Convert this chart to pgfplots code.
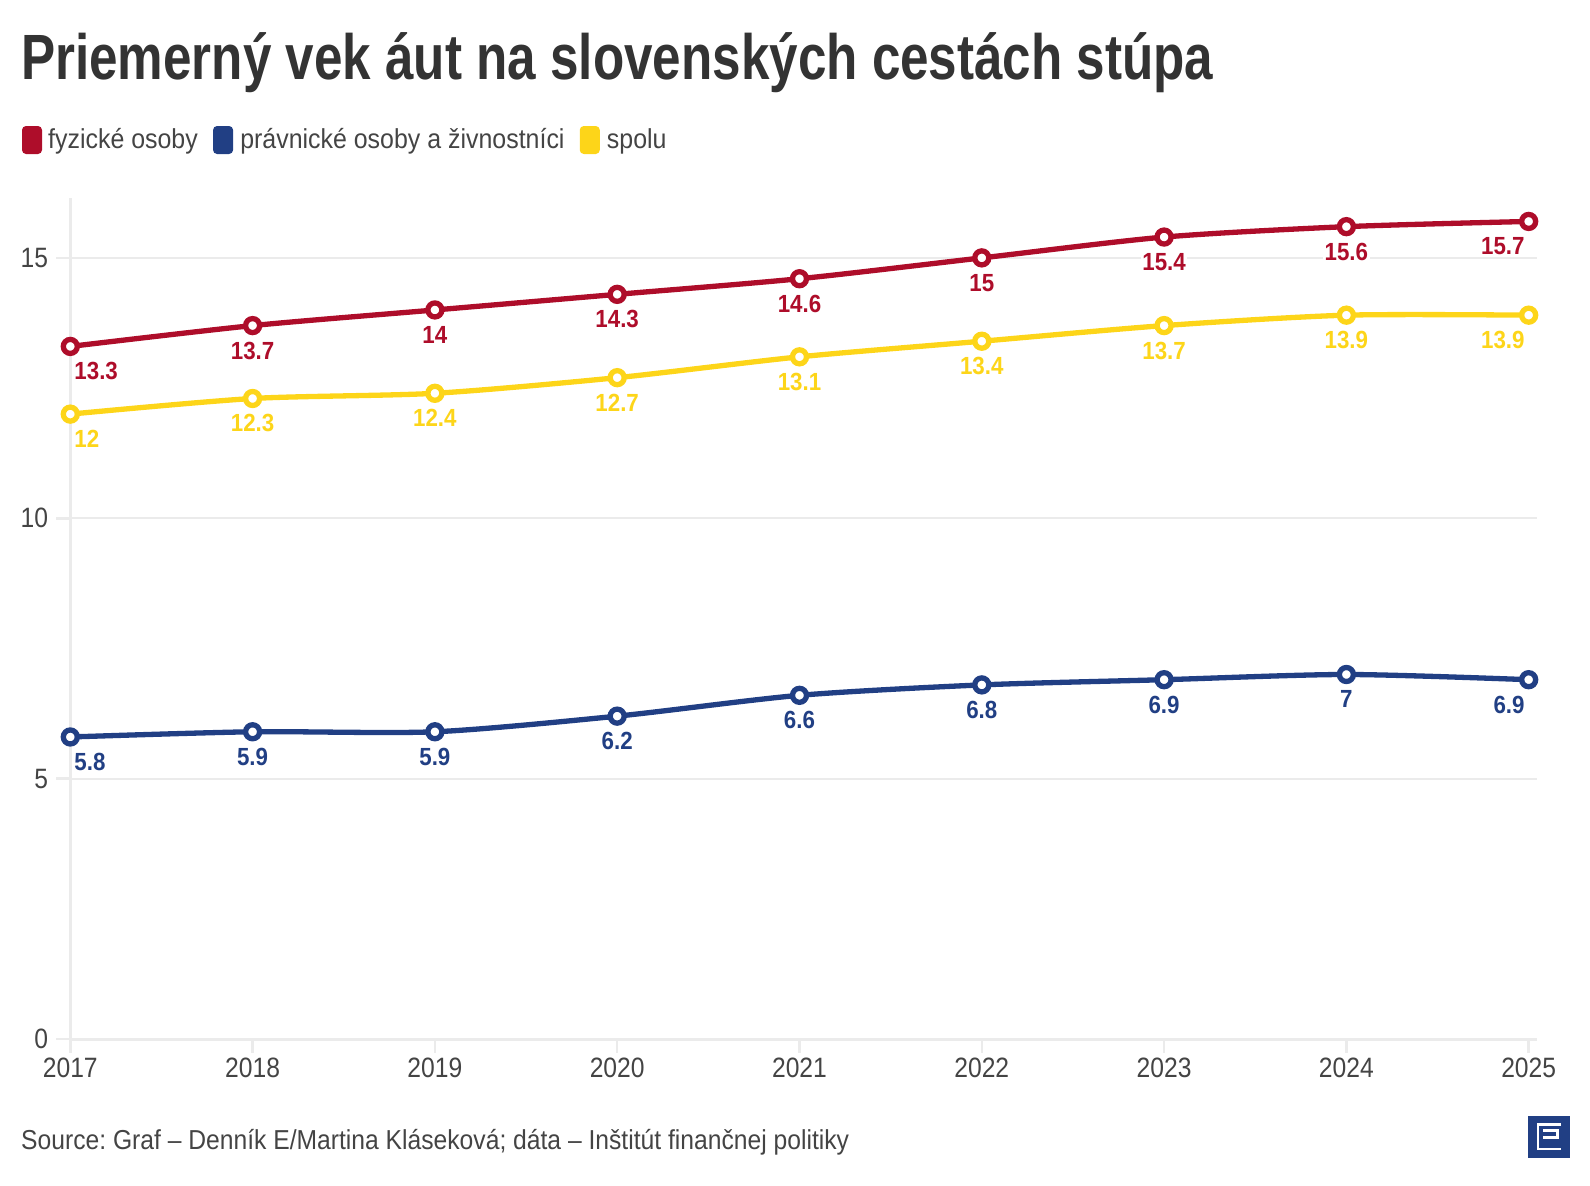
\documentclass[border=0pt]{standalone}
\usepackage{fontspec}
\setmainfont{Liberation Sans}[FakeStretch=0.91]
\newfontfamily\titlefont{Liberation Sans}[FakeStretch=0.80]
\newfontfamily\labelfont{Liberation Sans}[FakeStretch=0.90]
\newfontfamily\srcfont{Liberation Sans}[FakeStretch=0.90]
\newfontfamily\tickfont{Liberation Sans}[FakeStretch=0.88]
\usepackage{pgfplots}
\pgfplotsset{compat=1.18}
\frenchspacing
\definecolor{cred}{HTML}{AE0D2A}
\definecolor{cblue}{HTML}{213F84}
\definecolor{cyel}{HTML}{FDD519}
\definecolor{gridc}{HTML}{EBEBEB}
\definecolor{txt}{HTML}{444444}
\definecolor{ttl}{HTML}{333333}
\pgfplotsset{
  lbl/.style={
    nodes near coords,
    nodes near coords align=below,
    every node near coord/.append style={font=\labelfont\bfseries\fontsize{24.8bp}{26bp}\selectfont, text=#1, fill=white, inner sep=1.5bp, yshift=-12bp},
    coordinate style/.condition={x<2017.5}{anchor=north west},
    coordinate style/.condition={x>2024.5}{anchor=north east},
  },
  ser/.style={smooth, tension=0.45, color=#1, line width=5.3bp, mark=*, mark size=7bp,
    mark options={fill=white, draw=#1, line width=5.3bp}, lbl=#1},
}
\begin{document}
\begin{tikzpicture}
\path[use as bounding box] (0,0) rectangle (1590bp,-1186bp);
\node[anchor=base west, inner sep=0, text=ttl, font=\titlefont\bfseries\fontsize{64bp}{70bp}\selectfont] at (21bp,-79bp) {Priemerný vek áut na slovenských cestách stúpa};
% legend
\fill[cred, rounded corners=4bp] (22bp,-126bp) rectangle (42bp,-154bp);
\node[anchor=base west, inner sep=0, text=txt, font=\fontsize{27.4bp}{30bp}\selectfont] (l1) at (48bp,-148bp) {fyzické osoby};
\fill[cblue, rounded corners=4bp] ([xshift=15bp,yshift=-6bp]l1.base east) rectangle ++(20bp,28bp);
\node[anchor=base west, inner sep=0, text=txt, font=\fontsize{27.4bp}{30bp}\selectfont] (l2) at ([xshift=42bp]l1.base east) {právnické osoby a živnostníci};
\fill[cyel, rounded corners=4bp] ([xshift=15bp,yshift=-6bp]l2.base east) rectangle ++(20bp,28bp);
\node[anchor=base west, inner sep=0, text=txt, font=\fontsize{27.4bp}{30bp}\selectfont] (l3) at ([xshift=42bp]l2.base east) {spolu};
\begin{axis}[
  at={(70.3bp,-1039bp)}, anchor=south west,
  scale only axis, width=1466.4bp, height=841bp,
  xmin=2017, xmax=2025.044, ymin=0, ymax=16.15,
  axis x line*=bottom, axis y line*=left,
  axis line style={-, draw=gridc, line width=3bp},
  xtick={2017,2018,2019,2020,2021,2022,2023,2024,2025},
  ytick={0,5,10,15},
  tick align=outside,
  major tick length=14bp,
  major tick style={draw=gridc, line width=2.5bp},
  ymajorgrids,
  major grid style={draw=gridc, line width=2bp},
  ticklabel style={font=\tickfont\fontsize{28bp}{30bp}\selectfont, text=txt},
  /pgf/number format/assume math mode=true,
  x tick label style={/pgf/number format/1000 sep={}},
  yticklabel style={inner sep=0pt, xshift=-8bp},
  xticklabel style={inner sep=0pt, yshift=-5bp},
  clip=false,
]
\addplot[ser=cred] coordinates {(2017,13.3) (2018,13.7) (2019,14) (2020,14.3) (2021,14.6) (2022,15) (2023,15.4) (2024,15.6) (2025,15.7)};
\addplot[ser=cblue] coordinates {(2017,5.8) (2018,5.9) (2019,5.9) (2020,6.2) (2021,6.6) (2022,6.8) (2023,6.9) (2024,7) (2025,6.9)};
\addplot[ser=cyel] coordinates {(2017,12) (2018,12.3) (2019,12.4) (2020,12.7) (2021,13.1) (2022,13.4) (2023,13.7) (2024,13.9) (2025,13.9)};
\end{axis}
\node[anchor=base west, inner sep=0, text=txt, font=\srcfont\fontsize{27.4bp}{30bp}\selectfont] at (21bp,-1149bp) {Source: Graf – Denník E/Martina Kláseková; dáta – Inštitút finančnej politiky};
% logo
\fill[cblue] (1527.7bp,-1116bp) rectangle (1570bp,-1157.7bp);
\draw[white, line width=2.6bp] (1561bp,-1124.5bp) -- (1538bp,-1124.5bp) -- (1538bp,-1149bp) -- (1561bp,-1149bp);
\draw[white, line width=2.6bp] (1543bp,-1130.7bp) -- (1557.5bp,-1130.7bp) -- (1557.5bp,-1137.5bp) -- (1543bp,-1137.5bp);
\end{tikzpicture}
\end{document}
